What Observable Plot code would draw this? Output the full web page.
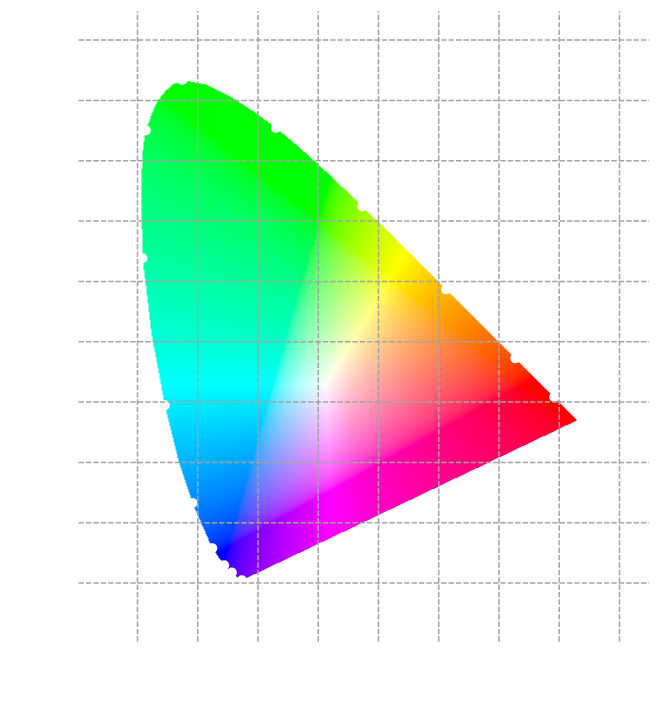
<!DOCTYPE html>
<html>
<head>
<meta charset="utf-8">
<script src="https://cdn.jsdelivr.net/npm/d3@7"></script>
<script src="https://cdn.jsdelivr.net/npm/@observablehq/plot@0.6"></script>
<style>html,body{margin:0;padding:0;background:#fff}svg{display:block}</style>
</head>
<body>
<div id="chart"></div>
<script>
const locusX = [0.17411,0.17380,0.17334,0.17258,0.17141,0.16888,0.16441,0.15664,0.14396,0.12412,0.09129,0.06871,0.04539,0.02346,0.0085,0.0075,0.0060,0.0085,0.0130,0.0205,0.0262,0.0346,0.0458,0.0597,0.0680,0.07430,0.0990,0.11416,0.15472,0.19288,0.22962,0.26578,0.30160,0.33736,0.37310,0.40874,0.44406,0.47877,0.51249,0.54479,0.57515,0.60293,0.62704,0.64823,0.66576,0.68008,0.69150,0.70061,0.70792,0.71403,0.71903,0.72303,0.72599,0.72827,0.72997];
const locusY = [0.00496,0.00492,0.00480,0.00480,0.00510,0.00690,0.01086,0.01770,0.02970,0.05780,0.13270,0.20072,0.29498,0.41270,0.53842,0.5850,0.6520,0.7130,0.7502,0.7680,0.7840,0.8010,0.8150,0.8270,0.8300,0.83380,0.8287,0.82621,0.80586,0.78163,0.75433,0.72432,0.69231,0.65885,0.62445,0.58961,0.55471,0.52020,0.48659,0.45443,0.42423,0.39650,0.37249,0.35139,0.33401,0.31975,0.30834,0.29930,0.29203,0.28593,0.28093,0.27695,0.27401,0.27173,0.27003];
const markerX = [0.17334,0.15664,0.14396,0.12412,0.09129,0.04539,0.00817,0.01387,0.07430,0.22962,0.37310,0.51249,0.62704,0.69150];
const markerY = [0.00480,0.01770,0.02970,0.05780,0.13270,0.29498,0.53842,0.75019,0.83380,0.75433,0.62445,0.48659,0.37249,0.30834];
const xTicks = [0,0.1,0.2,0.3,0.4,0.5,0.6,0.7,0.8];
const yTicks = [0,0.1,0.2,0.3,0.4,0.5,0.6,0.7,0.8,0.9];
const xExtent = [-0.097,0.85];
const yExtent = [-0.098,0.947];

const locus = locusX.map((x,i)=>[x,locusY[i]]);
const gamma = v => v <= 0.0031308 ? 12.92*v : 1.055*Math.pow(v,1/2.4)-0.055;
function chromaColor(x,y){
  if(!d3.polygonContains(locus,[x,y])) return "#ffffff";
  const X=x/y, Y=1, Z=(1-x-y)/y;
  const r=Math.max(0, 3.2406*X-1.5372*Y-0.4986*Z);
  const g=Math.max(0,-0.9689*X+1.8758*Y+0.0415*Z);
  const b=Math.max(0, 0.0557*X-0.2040*Y+1.0570*Z);
  const m=Math.max(r,g,b);
  return d3.rgb(255*gamma(r/m),255*gamma(g/m),255*gamma(b/m)).formatHex();
}
const gridStyle={stroke:"#a3a3a3",strokeWidth:1.5,strokeDasharray:"5.4,2"};
const chart = Plot.plot({
  width:660, height:704,
  marginLeft:0, marginRight:0, marginTop:0, marginBottom:0,
  x:{domain:[0,0.8],range:[137,619],axis:null},
  y:{domain:[0,0.9],range:[582.6,39.6],axis:null},
  color:{type:"identity"},
  style:{background:"#fff"},
  marks:[
    Plot.raster({x1:0,x2:0.75,y1:0,y2:0.85,pixelSize:1,fill:chromaColor,imageRendering:"auto"}),
    Plot.dot(markerX.map((x,i)=>({x,y:markerY[i]})),{x:"x",y:"y",r:5,fill:"#fff",stroke:"none"}),
    Plot.ruleX(xTicks,{y1:yExtent[0],y2:yExtent[1],...gridStyle}),
    Plot.ruleY(yTicks,{x1:xExtent[0],x2:xExtent[1],...gridStyle})
  ]
});
document.getElementById("chart").append(chart);
</script>
</body>
</html>
